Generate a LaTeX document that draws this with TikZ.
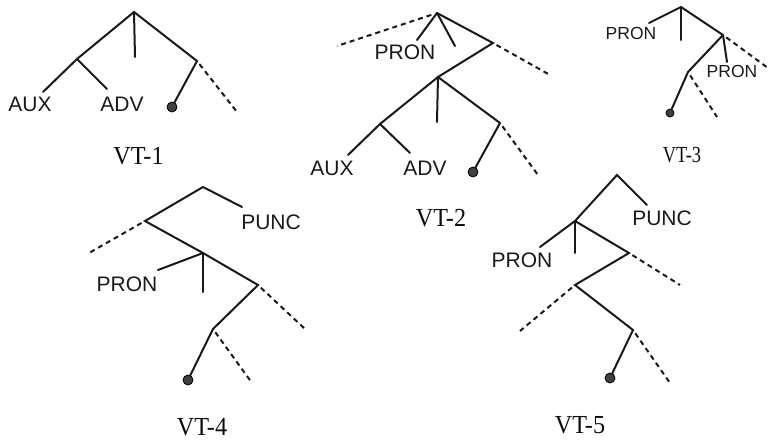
\documentclass[tikz,border=0pt]{standalone}
\usepackage{fontspec}
\setmainfont{Liberation Serif}
\setsansfont{Liberation Sans}
\begin{document}
\begin{tikzpicture}[x=1pt,y=-1pt,
  branch/.style={line width=2pt, black!90, line cap=round},
  elided/.style={line width=2pt, black!90, dash pattern=on 5pt off 4pt, shorten <=4pt},
  cat/.style={font=\sffamily\fontsize{21}{25}\selectfont, inner sep=0pt, text=black!90},
  smallcat/.style={font=\sffamily\fontsize{17.5}{21}\selectfont, inner sep=0pt, text=black!90},
  tag/.style={font=\rmfamily\fontsize{26}{30}\selectfont, inner sep=0pt, text=black!95, xscale=0.93},
  smalltag/.style={font=\rmfamily\fontsize{23}{27}\selectfont, inner sep=0pt, text=black!95, xscale=0.8},
  head/.style={circle, fill=black!75, draw=black, line width=0.8pt, inner sep=0pt, minimum size=10pt}
]
\useasboundingbox (0,0) rectangle (772,440);

% ---------- VT-1 ----------
\coordinate (r1) at (134,12);
\coordinate (a1) at (77,59);
\coordinate (s1) at (135,57);
\coordinate (b1) at (197,61);
\coordinate (aux1e) at (43,92);
\coordinate (adv1e) at (107,89);
\coordinate (x1) at (237,112);
\node[cat] (aux1) at (30,104) {AUX};
\node[cat] (adv1) at (122,104) {ADV};
\node[head] (h1) at (172,107) {};
\node[tag] (vt1) at (138.5,156) {VT-1};
\draw[branch] (a1) -- (r1) -- (b1);
\draw[branch] (r1) -- (s1);
\draw[branch] (aux1e) -- (a1) -- (adv1e);
\draw[branch] (b1) -- (h1);
\draw[elided] (b1) -- (x1);

% ---------- VT-2 ----------
\coordinate (r2) at (437,13);
\coordinate (x2a) at (337,46);
\coordinate (p2e) at (417,40);
\coordinate (s2) at (455,46);
\coordinate (b2) at (493,43);
\coordinate (x2b) at (550,75);
\coordinate (c2) at (438,77);
\coordinate (d2) at (380,124);
\coordinate (s2b) at (437,122);
\coordinate (e2) at (500,123);
\coordinate (aux2e) at (348,155);
\coordinate (adv2e) at (410,153);
\coordinate (x2c) at (538,175);
\node[cat] (pron2) at (405,52) {PRON};
\node[cat] (aux2) at (332,168) {AUX};
\node[cat] (adv2) at (425,168) {ADV};
\node[head] (h2) at (473,172) {};
\node[tag] (vt2) at (441,218) {VT-2};
\draw[elided, shorten <=6pt] (r2) -- (x2a);
\draw[branch] (r2) -- (p2e);
\draw[branch] (r2) -- (s2);
\draw[branch] (r2) -- (b2) -- (c2);
\draw[elided] (b2) -- (x2b);
\draw[branch] (d2) -- (c2) -- (e2);
\draw[branch] (c2) -- (s2b);
\draw[branch] (aux2e) -- (d2) -- (adv2e);
\draw[branch] (e2) -- (h2);
\draw[elided] (e2) -- (x2c);

% ---------- VT-3 ----------
\coordinate (r3) at (681,7);
\coordinate (p3e) at (649,23);
\coordinate (s3) at (681,40);
\coordinate (b3) at (723,35);
\coordinate (x3a) at (768,68);
\coordinate (q3e) at (727,62);
\coordinate (c3) at (688,72);
\coordinate (x3b) at (717,117);
\node[smallcat] (pron3a) at (631,33) {PRON};
\node[smallcat] (pron3b) at (732,71) {PRON};
\node[head, minimum size=8pt] (h3) at (670,113) {};
\node[smalltag] (vt3) at (682,155.5) {VT-3};
\draw[branch] (p3e) -- (r3) -- (b3);
\draw[branch] (r3) -- (s3);
\draw[elided] (b3) -- (x3a);
\draw[branch] (b3) -- (q3e);
\draw[branch] (b3) -- (c3) -- (h3);
\draw[elided] (c3) -- (x3b);

% ---------- VT-4 ----------
\coordinate (t4) at (203,187);
\coordinate (u4e) at (242,207);
\coordinate (a4) at (145,221);
\coordinate (x4a) at (89,253);
\coordinate (c4) at (203,253);
\coordinate (p4e) at (158,270);
\coordinate (s4) at (203,292);
\coordinate (d4) at (258,285);
\coordinate (x4b) at (305,329);
\coordinate (e4) at (213,329);
\coordinate (x4c) at (252,383);
\node[cat] (punc4) at (271,222) {PUNC};
\node[cat] (pron4) at (127,284) {PRON};
\node[head] (h4) at (188,380) {};
\node[tag] (vt4) at (202,427) {VT-4};
\draw[branch] (u4e) -- (t4) -- (a4) -- (c4) -- (d4) -- (e4) -- (h4);
\draw[elided] (a4) -- (x4a);
\draw[branch] (c4) -- (p4e);
\draw[branch] (c4) -- (s4);
\draw[elided] (d4) -- (x4b);
\draw[elided] (e4) -- (x4c);

% ---------- VT-5 ----------
\coordinate (t5) at (617,175);
\coordinate (u5e) at (647,205);
\coordinate (a5) at (575,221);
\coordinate (p5e) at (540,247);
\coordinate (s5) at (575,253);
\coordinate (b5) at (629,253);
\coordinate (x5a) at (680,285);
\coordinate (c5) at (575,285);
\coordinate (x5b) at (520,331);
\coordinate (d5) at (633,330);
\coordinate (x5c) at (670,383);
\node[cat] (punc5) at (662,218) {PUNC};
\node[cat] (pron5) at (522,260) {PRON};
\node[head] (h5) at (610,378) {};
\node[tag] (vt5) at (580,425) {VT-5};
\draw[branch] (u5e) -- (t5) -- (a5) -- (b5) -- (c5) -- (d5) -- (h5);
\draw[branch] (a5) -- (p5e);
\draw[branch] (a5) -- (s5);
\draw[elided] (b5) -- (x5a);
\draw[elided] (c5) -- (x5b);
\draw[elided] (d5) -- (x5c);
\end{tikzpicture}
\end{document}
